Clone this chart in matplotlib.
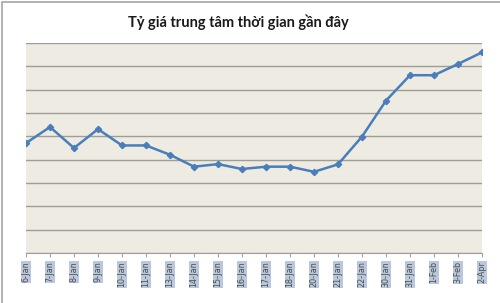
import matplotlib
matplotlib.use("Agg")
from matplotlib import pyplot as plt
from matplotlib.patches import Rectangle

# dates on the category axis
dates = ["6-Jan", "7-Jan", "8-Jan", "9-Jan", "10-Jan", "11-Jan", "13-Jan", "14-Jan",
         "15-Jan", "16-Jan", "17-Jan", "18-Jan", "20-Jan", "21-Jan", "22-Jan", "30-Jan",
         "31-Jan", "1-Feb", "3-Feb", "2-Apr"]
# rate in gridline units (no value labels shown)
rate = [4.71, 5.40, 4.50, 5.31, 4.61, 4.61, 4.21, 3.70, 3.81, 3.60,
        3.70, 3.70, 3.48, 3.80, 4.99, 6.53, 7.62, 7.62, 8.10, 8.60]
title = "Tỷ giá trung tâm thời gian gần đây"

fig = plt.figure(figsize=(5, 3.03), dpi=100)
fig.patch.set_facecolor("white")
# chart outline
fig.patches.append(Rectangle((0.004, -0.01), 1.2, 1.005, transform=fig.transFigure,
                             fill=False, edgecolor="#a6a6a6", linewidth=1.2))

ax = fig.add_axes([0.052, 0.165, 0.912, 0.693])
ax.set_facecolor("#eeebe2")
x = list(range(len(dates)))
ax.plot(x, rate, color="#4a7ebb", linewidth=1.8, marker="D", markersize=3.2,
        markeredgecolor="#4a7ebb", zorder=3)

ax.set_xlim(0, len(dates) - 1)
ax.set_ylim(0, 9)
ax.set_yticks(range(0, 10))
ax.yaxis.grid(True, color="#a09d96", linewidth=1.0)
ax.set_yticklabels([])
ax.tick_params(axis="y", length=0)
ax.set_xticks(x)
ax.set_xticklabels(dates, rotation=90, fontsize=5.8, color="#4d4d4d", family="DejaVu Sans")
ax.tick_params(axis="x", length=3, color="#a0a0a0", pad=3)
for lbl in ax.get_xticklabels():
    lbl.set_bbox(dict(facecolor="#b9c8dc", edgecolor="none", pad=0.6))
for s in ["top", "right", "left"]:
    ax.spines[s].set_visible(False)
ax.spines["bottom"].set_color("#a0a0a0")

fig.text(0.477, 0.925, title, ha="center", va="center", fontsize=10.5,
         fontweight="bold", family="Lato", color="#1a1a1a")

fig.savefig("out.png", dpi=100)
